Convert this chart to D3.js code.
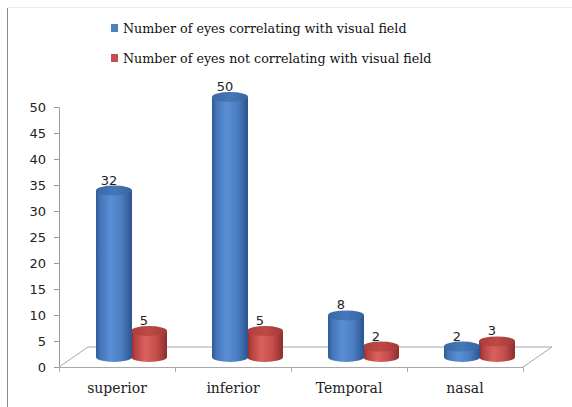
<!DOCTYPE html>
<html>
<head>
<meta charset="utf-8">
<script src="https://cdn.jsdelivr.net/npm/d3@7"></script>
<style>
  html, body { margin: 0; padding: 0; background: #fff; }
  svg { display: block; }
</style>
</head>
<body>
<svg id="chart" width="572" height="407"></svg>
<script>
// ---- data ----
const categories = ["superior", "inferior", "Temporal", "nasal"];
const correlating = [32, 50, 8, 2];
const notCorrelating = [5, 5, 2, 3];
const seriesNames = ["Number of eyes correlating with visual field",
                     "Number of eyes not correlating with visual field"];
const yTicks = [0, 5, 10, 15, 20, 25, 30, 35, 40, 45, 50];

// ---- layout ----
const svg = d3.select("#chart");
const W = 572, H = 407;
const plotL = 59, plotR = 523, plotT = 107, plotB = 367;
const depthX = 29, depthY = -20;           // floor depth
const midX = depthX / 2, midY = depthY / 2; // bars sit mid-depth
const rx = 18, ry = 5;

const x = d3.scaleBand().domain(categories).range([plotL, plotR]);
const y = d3.scaleLinear().domain([0, 50]).range([plotB, plotT]);
const inner = d3.scaleBand().domain([0, 1]).range([-35, 35]);

// frame
svg.append("line").attr("x1", 7.5).attr("x2", 7.5).attr("y1", 7).attr("y2", H)
  .attr("stroke", "#8c8c8c");
svg.append("line").attr("x1", 7).attr("x2", W).attr("y1", 7.5).attr("y2", 7.5)
  .attr("stroke", "#ececec");

// gradients
const defs = svg.append("defs");
function grad(id, stops) {
  const g = defs.append("linearGradient").attr("id", id)
    .attr("x1", "0%").attr("x2", "100%").attr("y1", "0%").attr("y2", "0%");
  stops.forEach(s => g.append("stop").attr("offset", s[0]).attr("stop-color", s[1]));
}
grad("bodyBlue", [[0, "#2f5b97"], [0.12, "#4274b8"], [0.4, "#5a8fd5"], [0.7, "#4c7fc2"], [1, "#2b5390"]]);
grad("topBlue", [[0, "#3a68a6"], [0.5, "#4677b8"], [1, "#3764a0"]]);
grad("bodyRed", [[0, "#8e2f2d"], [0.12, "#b5423f"], [0.4, "#d9615d"], [0.7, "#c64f4c"], [1, "#8c2e2c"]]);
grad("topRed", [[0, "#ad3d3a"], [0.5, "#bd4a47"], [1, "#a63a37"]]);

// floor
const floorStroke = "#a8a8a8";
svg.append("path")
  .attr("d", `M${plotL},${plotB} L${plotL + depthX},${plotB + depthY} L${plotR + depthX},${plotB + depthY} L${plotR},${plotB}`)
  .attr("fill", "none").attr("stroke", floorStroke);

// y axis
const yAxis = d3.axisLeft(y).tickValues(yTicks).tickSize(5).tickSizeOuter(0).tickPadding(8);
const gy = svg.append("g").attr("transform", `translate(${plotL},0)`).call(yAxis);
gy.select(".domain").attr("stroke", "#9a9a9a");
gy.selectAll(".tick line").attr("stroke", "#9a9a9a");
gy.selectAll(".tick text").attr("font-family", "DejaVu Sans").attr("font-size", 13)
  .attr("fill", "#222");

// x axis
const xAxis = d3.axisBottom(x).tickSize(0).tickPadding(16);
const gx = svg.append("g").attr("transform", `translate(0,${plotB})`).call(xAxis);
gx.select(".domain").attr("stroke", floorStroke);
gx.selectAll(".tick text").attr("font-family", "DejaVu Serif").attr("font-size", 14)
  .attr("fill", "#222");
const bounds = categories.map(c => x(c)).concat([x.range()[1]]);
gx.selectAll(".bound").data(bounds).enter().append("line")
  .attr("x1", d => d + 0.5).attr("x2", d => d + 0.5).attr("y1", 0).attr("y2", 5)
  .attr("stroke", floorStroke);

// bars (cylinders)
const series = [
  { vals: correlating, idx: 0, body: "url(#bodyBlue)", topFill: "url(#topBlue)" },
  { vals: notCorrelating, idx: 1, body: "url(#bodyRed)", topFill: "url(#topRed)" }
];
const baseY = plotB + midY;
const bars = svg.append("g");
// draw red first so blue appears in front
[series[1], series[0]].forEach(s => {
  categories.forEach((c, i) => {
    const v = s.vals[i];
    const cx = x(c) + x.bandwidth() / 2 + midX + inner(s.idx) + inner.bandwidth() / 2;
    const yt = baseY - (y(0) - y(v));
    const g = bars.append("g");
    g.append("path")
      .attr("d", `M${cx - rx},${yt} L${cx - rx},${baseY} A${rx},${ry} 0 0 0 ${cx + rx},${baseY} L${cx + rx},${yt} Z`)
      .attr("fill", s.body);
    g.append("ellipse").attr("cx", cx).attr("cy", yt).attr("rx", rx).attr("ry", ry)
      .attr("fill", s.topFill);
  });
});

// value labels
const labels = svg.append("g");
series.forEach(s => {
  categories.forEach((c, i) => {
    const v = s.vals[i];
    const cx = x(c) + x.bandwidth() / 2 + midX + inner(s.idx) + inner.bandwidth() / 2;
    const yt = baseY - (y(0) - y(v));
    labels.append("text").attr("x", cx - 5).attr("y", yt - 6)
      .attr("text-anchor", "middle").attr("font-family", "DejaVu Sans")
      .attr("font-size", 13).attr("fill", "#222").text(v);
  });
});

// legend
const legColors = ["#4f81bd", "#c0504d"];
const leg = svg.append("g");
seriesNames.forEach((n, i) => {
  const ly = 33 + i * 30;
  leg.append("rect").attr("x", 111).attr("y", ly - 9).attr("width", 7).attr("height", 8)
    .attr("fill", legColors[i]);
  leg.append("text").attr("x", 123).attr("y", ly).attr("font-family", "DejaVu Serif")
    .attr("font-size", 12.7).attr("fill", "#111").text(n);
});
</script>
</body>
</html>
